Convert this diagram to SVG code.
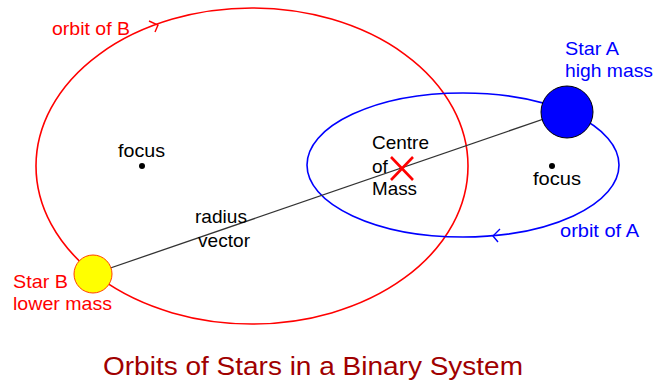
<svg xmlns="http://www.w3.org/2000/svg" width="655" height="386" viewBox="0 0 655 386">
<style>
text{font-family:"Liberation Sans",Arial,sans-serif;font-size:19px}
.r{fill:#ff0000}.b{fill:#0000ff}.k{fill:#000}
.t{fill:#a00000;font-size:25px}
</style>
<rect width="655" height="386" fill="#fff"/>
<g id="orbitB">
<ellipse cx="252" cy="166" rx="216" ry="158" fill="none" stroke="#ff0000" stroke-width="1.6"/>
<path d="M149,21 L158,25 L155,32" fill="none" stroke="#ff0000" stroke-width="1.4"/>
<text class="r" x="52" y="35" textLength="78" lengthAdjust="spacingAndGlyphs">orbit of B</text>
</g>
<g id="orbitA">
<ellipse cx="463" cy="165" rx="156" ry="72" fill="none" stroke="#0000ff" stroke-width="1.6"/>
<path d="M500,229 L493,236 L498,242" fill="none" stroke="#0000ff" stroke-width="1.4"/>
<text class="b" x="560" y="237" textLength="79" lengthAdjust="spacingAndGlyphs">orbit of A</text>
</g>
<g id="connectors">
<line x1="93" y1="274" x2="567" y2="111" stroke="#333" stroke-width="1.3"/>
</g>
<g id="starA">
<circle cx="567" cy="112" r="26" fill="#0000ff" stroke="#000" stroke-width="1"/>
<text class="b" x="565" y="55" textLength="54" lengthAdjust="spacingAndGlyphs">Star A</text>
<text class="b" x="565" y="77" textLength="88" lengthAdjust="spacingAndGlyphs">high mass</text>
</g>
<g id="starB">
<circle cx="93" cy="274" r="19" fill="#ffff00" stroke="#ff4000" stroke-width="1"/>
<text class="r" x="13" y="288" textLength="55" lengthAdjust="spacingAndGlyphs">Star B</text>
<text class="r" x="13" y="310" textLength="99" lengthAdjust="spacingAndGlyphs">lower mass</text>
</g>
<g id="focus1">
<circle cx="142" cy="166" r="3" fill="#000"/>
<text class="k" x="118" y="157" textLength="47" lengthAdjust="spacingAndGlyphs">focus</text>
</g>
<g id="focus2">
<circle cx="552" cy="166" r="3" fill="#000"/>
<text class="k" x="533" y="185" textLength="48" lengthAdjust="spacingAndGlyphs">focus</text>
</g>
<g id="centreOfMass">
<path d="M391,157 L413,180 M413,157 L391,180" stroke="#ff0000" stroke-width="2.6"/>
<text class="k" x="372" y="149" textLength="57" lengthAdjust="spacingAndGlyphs">Centre</text>
<text class="k" x="372" y="173">of</text>
<text class="k" x="372" y="195" textLength="45" lengthAdjust="spacingAndGlyphs">Mass</text>
</g>
<g id="radiusVector">
<text class="k" x="195" y="223" textLength="52" lengthAdjust="spacingAndGlyphs">radius</text>
<text class="k" x="198" y="247" textLength="52" lengthAdjust="spacingAndGlyphs">vector</text>
</g>
<g id="title">
<text class="t" x="103" y="375" textLength="420" lengthAdjust="spacingAndGlyphs">Orbits of Stars in a Binary System</text>
</g>
</svg>
